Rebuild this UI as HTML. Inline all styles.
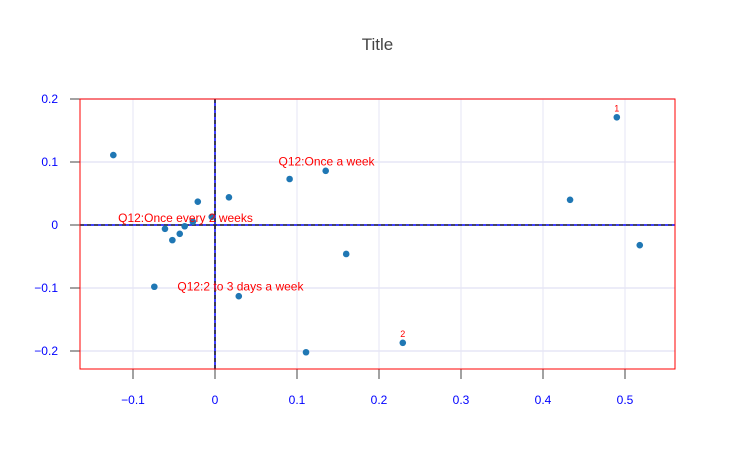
<!DOCTYPE html>
<html><head><meta charset="utf-8"><style>
body{margin:0;background:#fff;}
svg{display:block;font-family:"Liberation Sans",sans-serif;}
</style></head><body>
<svg id="chart" width="755" height="450"></svg>
<script>
const xVals=[-0.124,0.490,0.433,0.518,0.229,0.111,0.160,0.091,0.135,0.017,-0.021,-0.004,0.029,-0.074,-0.061,-0.052,-0.043,-0.037,-0.027];
const yVals=[0.111,0.171,0.040,-0.032,-0.187,-0.202,-0.046,0.073,0.086,0.044,0.037,0.013,-0.113,-0.098,-0.006,-0.024,-0.014,-0.002,0.005];
const pointLabels=["","1","","","2","","","","","","","","","","","","","",""];
const annX=[0.136,-0.036,0.031];
const annY=[0.1005,0.0115,-0.098];
const annText=["Q12:Once a week","Q12:Once every 2 weeks","Q12:2 to 3 days a week"];
const xTicks=[-0.1,0,0.1,0.2,0.3,0.4,0.5];
const xTickLabels=["−0.1","0","0.1","0.2","0.3","0.4","0.5"];
const yTicks=[-0.2,-0.1,0,0.1,0.2];
const yTickLabels=["−0.2","−0.1","0","0.1","0.2"];

const L=80,R=675,T=99,B=369;
const X0=215,XS=820,Y0=225,YS=630;
const sx=v=>X0+v*XS, sy=v=>Y0-v*YS;
const svg=document.getElementById('chart');
const NS='http://www.w3.org/2000/svg';
function mk(tag,attrs,parent){const e=document.createElementNS(NS,tag);for(const k in attrs)e.setAttribute(k,attrs[k]);(parent||svg).appendChild(e);return e;}

let t=mk('text',{x:377.5,y:50,'text-anchor':'middle','font-size':17,fill:'#444'});


t.textContent='Title';

const grid=mk('g',{});


xTicks.forEach((v,i)=>{
  if(v!==0)mk('line',{x1:sx(v),x2:sx(v),y1:T,y2:B,stroke:'#e6e6f5','stroke-width':1},grid);
  const tx=mk('text',{x:sx(v),y:B+35,'text-anchor':'middle','font-size':12,fill:'#0000ff'});
  
  
  tx.textContent=xTickLabels[i];
});
yTicks.forEach((v,i)=>{
  if(v!==0)mk('line',{x1:L,x2:R,y1:sy(v),y2:sy(v),stroke:'#e6e6f5','stroke-width':1.5},grid);
  const ty=mk('text',{x:L-22,y:sy(v)+4,'text-anchor':'end','font-size':12,fill:'#0000ff'});
  
  
  ty.textContent=yTickLabels[i];
  mk('line',{x1:L-10,x2:L,y1:sy(v),y2:sy(v),stroke:'#444','stroke-width':1});
});
xTicks.forEach(v=>mk('line',{x1:sx(v),x2:sx(v),y1:B,y2:B+10,stroke:'#444','stroke-width':1}));

let zx=mk('line',{x1:L,x2:R,y1:sy(0),y2:sy(0),stroke:'#0000ff','stroke-width':1.5});


let zy=mk('line',{x1:sx(0),x2:sx(0),y1:T,y2:B,stroke:'#0000ff','stroke-width':1.5});


mk('line',{x1:L,x2:R,y1:sy(0),y2:sy(0),stroke:'#333','stroke-width':1.5,'stroke-dasharray':'4,3'});
mk('line',{x1:sx(0),x2:sx(0),y1:T,y2:B,stroke:'#222','stroke-width':1.5,'stroke-dasharray':'4,3'});

let frame=mk('rect',{x:L,y:T,width:R-L,height:B-T,fill:'none',stroke:'#ff0000','stroke-width':1});



xVals.forEach((v,i)=>{
  const c=mk('circle',{cx:sx(v),cy:sy(yVals[i]),r:3.3,fill:'#1f77b4'});
  
  
  if(pointLabels[i]){
    const l=mk('text',{x:sx(v),y:sy(yVals[i])-6,'text-anchor':'middle','font-size':9,fill:'#ff0000'});
    
    
    l.textContent=pointLabels[i];
  }
});
annText.forEach((s,i)=>{
  const a=mk('text',{x:sx(annX[i]),y:sy(annY[i])+4,'text-anchor':'middle','font-size':12,fill:'#ff0000'});
  
  
  a.textContent=s;
});
</script>
</body></html>
